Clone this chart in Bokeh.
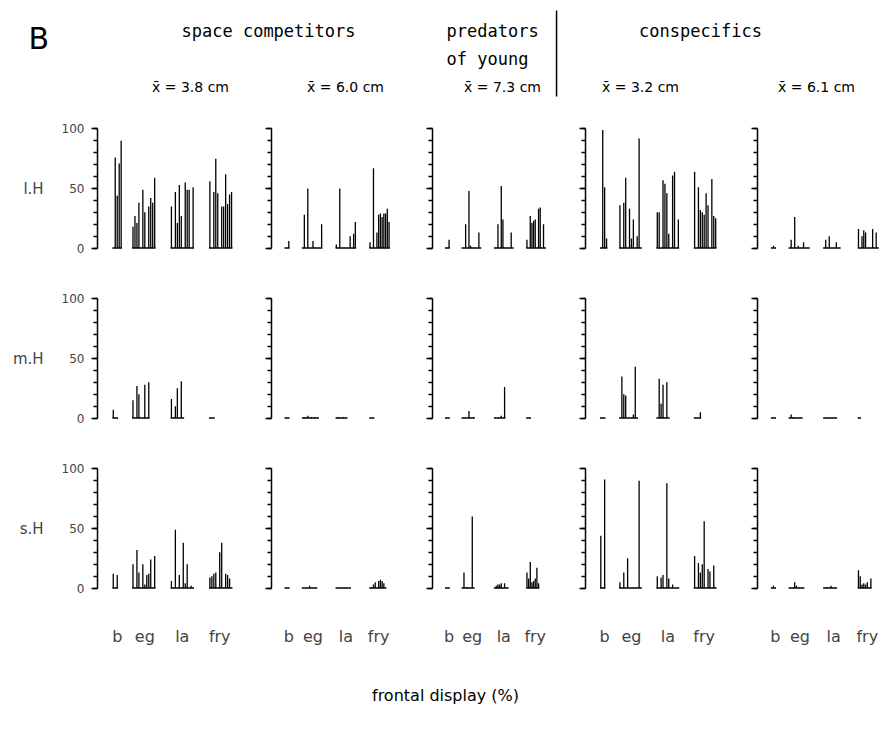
from bokeh.plotting import figure
from bokeh.layouts import column, row
from bokeh.models import (Range1d, Label, BoxAnnotation, FixedTicker,
                          SingleIntervalTicker, ColumnDataSource)
from bokeh.embed import file_html
from bokeh.resources import INLINE

FONT = "DejaVu Sans"
FONT_MONO = "DejaVu Sans Mono"

# ---------------- data ----------------
CATEGORIES = ["b", "eg", "la", "fry"]
ROW_LABELS = ["l.H", "m.H", "s.H"]
COL_MEANS = ["x\u0304 = 3.8 cm", "x\u0304 = 6.0 cm", "x\u0304 = 7.3 cm",
             "x\u0304 = 3.2 cm", "x\u0304 = 6.1 cm"]
HEAD_SPACE = "space competitors"
HEAD_PRED = ["predators", "of young"]
HEAD_CONS = "conspecifics"
X_TITLE = "frontal display (%)"
PANEL_LETTER = "B"

# frontal display (%) per individual, groups: b, eg, la, fry
lH_38 = [[0, 76, 44, 71, 90],
         [18, 27, 21, 38, 0, 49, 30, 0, 35, 42, 38, 59],
         [35, 0, 47, 21, 53, 27, 0, 55, 49, 49, 0, 51],
         [56, 0, 47, 75, 46, 0, 35, 35, 62, 37, 45, 47]]
lH_60 = [[0, 0, 6],
         [0, 28, 0, 50, 0, 0, 6, 0, 0, 0, 0, 20],
         [3, 0, 50, 0, 0, 0, 0, 0, 10, 0, 12, 22],
         [5, 0, 67, 0, 13, 28, 29, 26, 29, 29, 33, 22]]
lH_73 = [[0, 0, 7],
         [0, 0, 20, 0, 48, 2, 0, 0, 0, 0, 13, 0],
         [0, 0, 20, 0, 52, 24, 0, 0, 0, 0, 13, 0],
         [7, 0, 27, 21, 23, 24, 0, 33, 34, 0, 20, 0]]
lH_32 = [[0, 99, 51, 8],
         [36, 0, 38, 59, 0, 33, 8, 24, 0, 10, 92, 0],
         [30, 30, 0, 57, 54, 46, 12, 0, 61, 64, 0, 24],
         [64, 0, 51, 32, 30, 28, 46, 36, 0, 58, 27, 25]]
lH_61 = [[0, 2, 0],
         [0, 7, 0, 26, 0, 2, 0, 0, 5, 0, 0, 0],
         [0, 7, 0, 10, 0, 0, 0, 5, 0, 0],
         [16, 0, 10, 15, 13, 0, 0, 0, 16, 0, 13, 0]]

mH_38 = [[7, 0, 0],
         [15, 0, 27, 20, 0, 0, 28, 0, 30],
         [16, 0, 10, 25, 0, 31, 0],
         [0, 0, 0]]
mH_60 = [[0, 0, 0],
         [0, 1, 0, 2, 0, 1, 0, 1, 0, 0],
         [0, 1, 0, 0, 1, 0, 0],
         [0, 0, 0]]
mH_73 = [[0, 0, 0],
         [0, 0, 0, 0, 6, 0, 0, 1],
         [0, 0, 0, 0, 2, 0, 26],
         [0, 0, 0]]
mH_32 = [[0, 0, 0],
         [0, 35, 20, 19, 0, 0, 0, 3, 43, 0],
         [0, 33, 12, 28, 0, 30, 0],
         [0, 0, 0, 5]]
mH_61 = [[0, 0, 0],
         [0, 3, 1, 0, 0, 0, 0, 0],
         [0, 0, 0, 0, 0, 0, 0, 0],
         [0, 0]]

sH_38 = [[12, 0, 11],
         [20, 0, 32, 13, 0, 20, 3, 11, 12, 24, 0, 27],
         [6, 0, 49, 0, 11, 0, 38, 4, 20, 0, 2, 0],
         [9, 10, 12, 13, 0, 30, 38, 0, 12, 11, 8, 0]]
sH_60 = [[0, 0, 0],
         [0, 0, 0, 0, 2, 0, 0, 0, 0],
         [0, 0, 0, 0, 0, 0, 0, 0, 0],
         [0, 1, 3, 5, 0, 6, 7, 6, 4, 0]]
sH_73 = [[0, 0, 0],
         [0, 13, 0, 1, 0, 0, 60, 0],
         [0, 2, 3, 3, 4, 0, 4, 0, 0],
         [13, 8, 22, 5, 6, 8, 17, 4]]
sH_32 = [[44, 0, 91],
         [5, 0, 13, 0, 25, 0, 0, 0, 0, 0, 90, 0],
         [10, 0, 9, 11, 0, 88, 8, 0, 3, 0, 0, 0],
         [27, 0, 21, 13, 20, 56, 0, 16, 14, 0, 19, 0]]
sH_61 = [[0, 2, 0],
         [0, 0, 0, 5, 2, 0, 0, 0, 0],
         [0, 0, 1, 0, 2, 0, 0, 0],
         [15, 10, 3, 4, 3, 5, 0, 8]]

PANELS = [[lH_38, lH_60, lH_73, lH_32, lH_61],
          [mH_38, mH_60, mH_73, mH_32, mH_61],
          [sH_38, sH_60, sH_73, sH_32, sH_61]]

# ---------------- layout constants ----------------
GROUP_START = [8, 18, 37.5, 57]
STEP = 1.0
CAT_TICKS = [10, 24, 43, 62]
X_MAX = 70

COL_BORDER = [97, 36, 40, 37, 38]
COL_FRAME = [138, 121, 116, 134, 124]
ROW_HEIGHT = [170, 170, 202]
BORDER_TOP = 18
BORDER_BOTTOM = [28, 28, 60]
TOTAL_W = sum(COL_BORDER) + sum(COL_FRAME)


def make_panel(values, r, c):
    xs, tops, zeros = [], [], []
    bx0, bx1, bz = [], [], []
    for g, vals in enumerate(values):
        for i, v in enumerate(vals):
            xs.append(GROUP_START[g] + i * STEP)
            tops.append(v)
            zeros.append(0)
        bx0.append(GROUP_START[g] - 0.45)
        bx1.append(GROUP_START[g] + (len(vals) - 1) * STEP + 0.45)
        bz.append(0)

    p = figure(width=COL_BORDER[c] + COL_FRAME[c], height=ROW_HEIGHT[r],
               x_range=Range1d(0, X_MAX), y_range=Range1d(-2, 102),
               output_backend="svg", toolbar_location=None,
               min_border_left=COL_BORDER[c], min_border_right=0,
               min_border_top=BORDER_TOP, min_border_bottom=BORDER_BOTTOM[r])
    p.outline_line_color = None
    p.xgrid.visible = False
    p.ygrid.visible = False
    p.background_fill_color = "white"
    p.border_fill_color = "white"

    bars = ColumnDataSource(dict(x=xs, y0=zeros, y1=tops))
    p.segment(x0="x", y0="y0", x1="x", y1="y1", source=bars,
              line_color="black", line_width=1.3)
    base = ColumnDataSource(dict(x0=bx0, x1=bx1, y=bz))
    p.segment(x0="x0", y0="y", x1="x1", y1="y", source=base,
              line_color="black", line_width=1.5)

    ya = p.yaxis[0]
    ya.ticker = SingleIntervalTicker(interval=50, num_minor_ticks=5)
    ya.bounds = (0, 100)
    ya.axis_line_width = 1.5
    ya.major_tick_line_width = 1.5
    ya.minor_tick_line_width = 1.3
    ya.major_tick_out = 6
    ya.major_tick_in = 0
    ya.minor_tick_out = 4
    ya.minor_tick_in = 0
    if c == 0:
        ya.major_label_text_font = FONT
        ya.major_label_text_font_size = "12px"
        ya.major_label_standoff = 7
        ya.axis_label = ROW_LABELS[r]
        ya.axis_label_orientation = "horizontal"
        ya.axis_label_text_font = FONT
        ya.axis_label_text_font_size = "15px"
        ya.axis_label_text_font_style = "normal"
        ya.axis_label_standoff = 15
    else:
        ya.major_label_overrides = {0: "", 50: "", 100: ""}

    xa = p.xaxis[0]
    if r == 2:
        xa.ticker = FixedTicker(ticks=CAT_TICKS)
        xa.major_label_overrides = {t: n for t, n in zip(CAT_TICKS, CATEGORIES)}
        xa.axis_line_color = None
        xa.major_tick_line_color = None
        xa.minor_tick_line_color = None
        xa.major_label_standoff = 30
        xa.major_label_text_font = FONT
        xa.major_label_text_font_size = "16px"
    else:
        xa.visible = False
    return p


def blank(width, height, yspan):
    p = figure(width=width, height=height, x_range=Range1d(0, width),
               y_range=Range1d(yspan, 0), output_backend="svg",
               toolbar_location=None, min_border=0,
               x_axis_type=None, y_axis_type=None)
    p.outline_line_color = None
    p.xgrid.visible = False
    p.ygrid.visible = False
    return p


def lab(p, x, y, t, size="15px", align="center", font=FONT):
    p.add_layout(Label(x=x, y=y, text=t, text_font=font, text_font_size=size,
                       text_align=align, text_baseline="middle",
                       text_color="black"))


# header
HEADER_H = 108
head = blank(TOTAL_W, HEADER_H, HEADER_H)
lab(head, 28, 38, PANEL_LETTER, "30px", "left")
lab(head, 268, 30, HEAD_SPACE, "17px", font=FONT_MONO)
lab(head, 446, 30, HEAD_PRED[0], "17px", "left", FONT_MONO)
lab(head, 446, 58, HEAD_PRED[1], "17px", "left", FONT_MONO)
lab(head, 700, 30, HEAD_CONS, "17px", font=FONT_MONO)
head.add_layout(BoxAnnotation(left=555.3, right=556.8, top=10, bottom=96,
                              fill_color="black", fill_alpha=1,
                              line_color=None))
MEAN_X = [190, 345, 502, 640, 816]
for mx, t in zip(MEAN_X, COL_MEANS):
    lab(head, mx, 86, t, "14px")

rows = []
for r in range(3):
    rows.append(row(*[make_panel(PANELS[r][c], r, c) for c in range(5)],
                    spacing=0))

FOOT_H = 80
foot = blank(TOTAL_W, FOOT_H, FOOT_H)
lab(foot, 445, 45, X_TITLE, "16px")

layout = column(head, *rows, foot, spacing=0)

open("out.html", "w").write(file_html(layout, INLINE))
